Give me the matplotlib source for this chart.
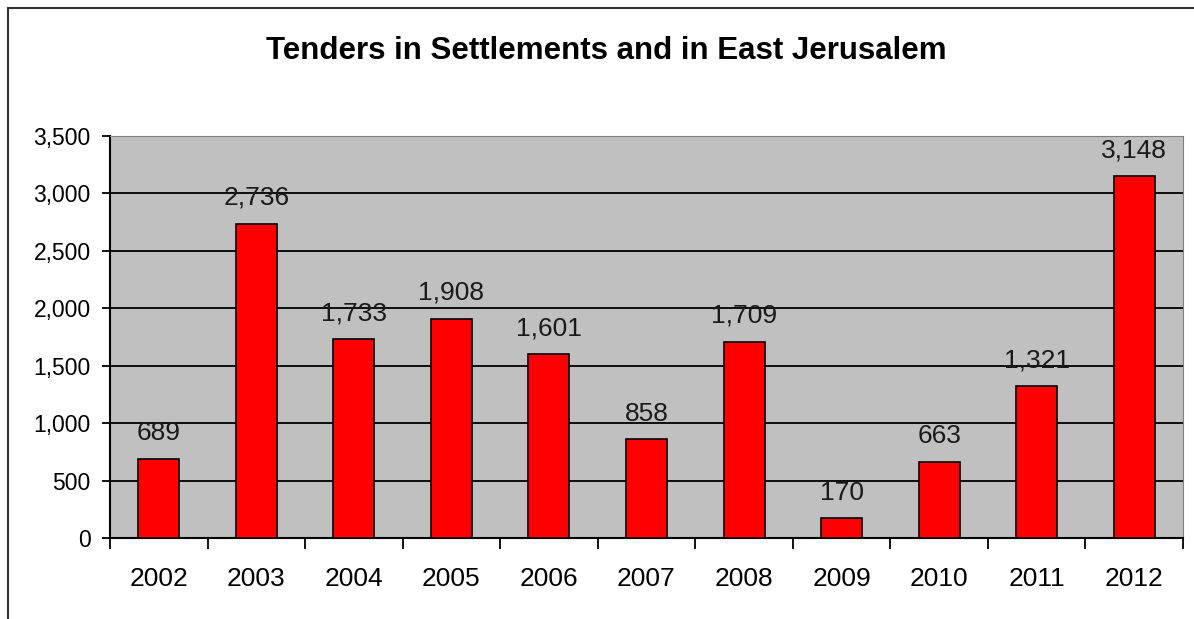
import matplotlib.pyplot as plt
from matplotlib.lines import Line2D

# dados
years = ['2002', '2003', '2004', '2005', '2006', '2007', '2008', '2009', '2010', '2011', '2012']
tenders = [689, 2736, 1733, 1908, 1601, 858, 1709, 170, 663, 1321, 3148]
y_ticks = [0, 500, 1000, 1500, 2000, 2500, 3000, 3500]

plt.rcParams['font.family'] = ['Liberation Sans', 'DejaVu Sans']

fig = plt.figure(figsize=(11.94, 6.19), dpi=100)
ax = fig.add_axes([0.0921, 0.1309, 0.8987, 0.6494])
ax.set_facecolor('#c0c0c0')

x = list(range(len(years)))
ax.bar(x, tenders, width=0.42, color='#ff0000', edgecolor='black', linewidth=1.2, zorder=3)

for xi, v in zip(x, tenders):
    ax.annotate(f'{v:,}', (xi, v), xytext=(0, 10), textcoords='offset points',
                ha='center', va='bottom', fontsize=19, color='#1a1a1a')

ax.set_xlim(-0.5, len(years) - 0.5)
ax.set_ylim(0, 3500)
ax.set_yticks(y_ticks)
ax.set_yticklabels([f'{t:,}' for t in y_ticks], fontsize=16.5)
ax.yaxis.grid(True, color='black', linewidth=1.3, zorder=1)
ax.set_axisbelow(True)

# ticks do eixo x entre as categorias
ax.set_xticks([i - 0.5 for i in range(len(years) + 1)])
ax.set_xticklabels([])
ax.set_xticks(x, minor=True)
ax.set_xticklabels(years, minor=True, fontsize=19)
ax.tick_params(axis='x', which='major', length=8, width=1.3, direction='out')
ax.tick_params(axis='x', which='minor', length=0, pad=21)
ax.tick_params(axis='y', length=6, width=1.3, pad=8)

ax.spines['left'].set_linewidth(1.5)
ax.spines['bottom'].set_linewidth(1.5)
ax.spines['top'].set_color('#808080')
ax.spines['right'].set_color('#808080')

fig.text(0.508, 0.918, 'Tenders in Settlements and in East Jerusalem',
         ha='center', va='center', fontsize=22.5, fontweight='bold')

# moldura do gráfico
fig.add_artist(Line2D([0.007, 0.007], [0, 0.987], color='#333333', linewidth=1.5))
fig.add_artist(Line2D([0.007, 1.0], [0.987, 0.987], color='#333333', linewidth=1.5))

plt.savefig('out.png', dpi=100)
